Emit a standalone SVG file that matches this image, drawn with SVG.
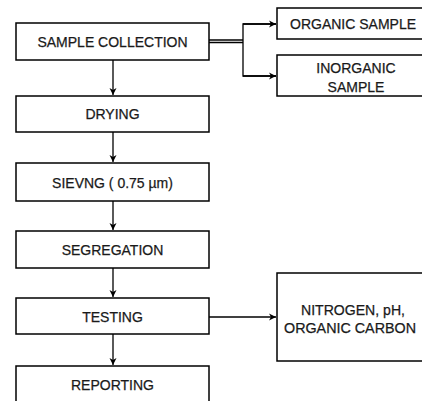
<svg xmlns="http://www.w3.org/2000/svg" width="422" height="401" viewBox="0 0 422 401">
<defs>
<style>
.box{fill:#fff;stroke:#000;stroke-width:1.5}
.t{font-family:"Liberation Sans",Arial,sans-serif;font-size:14px;fill:#1a1a1a;stroke:#1a1a1a;stroke-width:0.25;text-anchor:middle}
.c{fill:none;stroke:#000;stroke-width:1.3}
</style>
<marker id="ah" markerWidth="8" markerHeight="8" refX="7" refY="4" orient="auto" markerUnits="userSpaceOnUse">
<path d="M0,0.5 L7,4 L0,7.5 L2,4 Z" fill="#000"/>
</marker>
</defs>
<g id="connectors">
<line class="c" x1="113" y1="60" x2="113" y2="95" marker-end="url(#ah)"/>
<line class="c" x1="113" y1="132" x2="113" y2="162" marker-end="url(#ah)"/>
<line class="c" x1="113" y1="201" x2="113" y2="230" marker-end="url(#ah)"/>
<line class="c" x1="113" y1="268" x2="113" y2="297" marker-end="url(#ah)"/>
<line class="c" x1="113" y1="334" x2="113" y2="365" marker-end="url(#ah)"/>
<line class="c" x1="209" y1="40" x2="243" y2="40"/>
<line class="c" x1="209" y1="42.5" x2="243" y2="42.5"/>
<polyline class="c" points="276,24 243,24 243,76 276,76"/>
<line class="c" x1="243" y1="24" x2="276" y2="24" marker-end="url(#ah)"/>
<line class="c" x1="243" y1="76" x2="276" y2="76" marker-end="url(#ah)"/>
<line class="c" x1="209" y1="317" x2="276" y2="317" marker-end="url(#ah)"/>
</g>
<g id="sample-collection"><rect class="box" x="16" y="23" width="193" height="37"/><text class="t" x="112.5" y="47">SAMPLE COLLECTION</text></g>
<g id="drying"><rect class="box" x="16" y="96" width="193" height="36"/><text class="t" x="112.5" y="119">DRYING</text></g>
<g id="sieving"><rect class="box" x="16" y="163" width="193" height="38"/><text class="t" x="112.5" y="188">SIEVNG ( 0.75 µm)</text></g>
<g id="segregation"><rect class="box" x="16" y="231" width="193" height="37"/><text class="t" x="112.5" y="255">SEGREGATION</text></g>
<g id="testing"><rect class="box" x="16" y="298" width="193" height="36"/><text class="t" x="112.5" y="322">TESTING</text></g>
<g id="reporting"><rect class="box" x="16" y="366" width="193" height="45"/><text class="t" x="112.5" y="390">REPORTING</text></g>
<g id="organic-sample"><rect class="box" x="277" y="8" width="150" height="31"/><text class="t" x="353" y="29" textLength="126" lengthAdjust="spacingAndGlyphs">ORGANIC SAMPLE</text></g>
<g id="inorganic-sample"><rect class="box" x="277" y="55" width="150" height="41"/><text class="t" x="356" y="73">INORGANIC</text><text class="t" x="356" y="92">SAMPLE</text></g>
<g id="parameters"><rect class="box" x="277" y="273" width="150" height="88"/><text class="t" x="353" y="315" textLength="104" lengthAdjust="spacingAndGlyphs">NITROGEN, pH,</text><text class="t" x="350" y="333" textLength="132" lengthAdjust="spacingAndGlyphs">ORGANIC CARBON</text></g>
</svg>
